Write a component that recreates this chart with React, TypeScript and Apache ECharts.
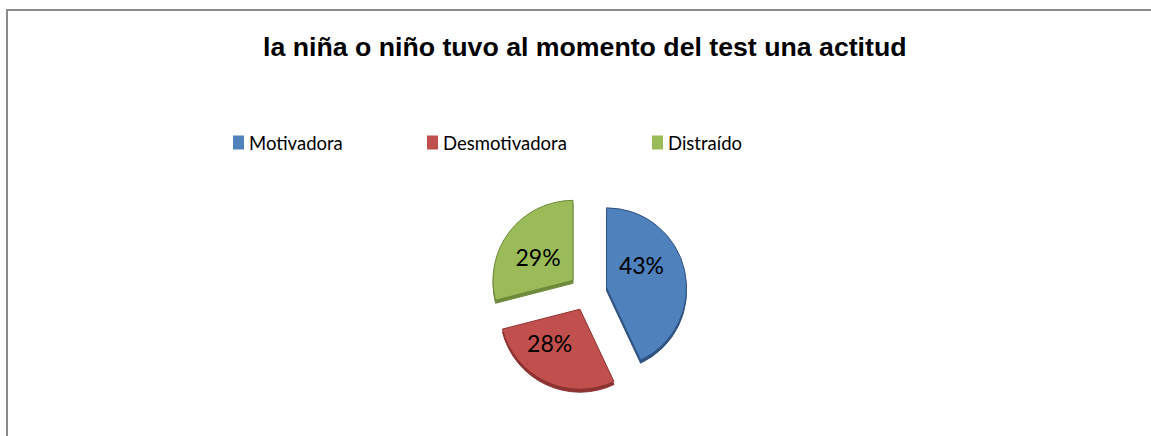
import React, { useEffect, useRef } from "react";
import * as echarts from "echarts";

const titleText = "la niña o niño tuvo al momento del test una actitud";
const categories = ["Motivadora", "Desmotivadora", "Distraído"];
const values = [43, 28, 29];
const colors = ["#4F81BD", "#C0504D", "#9BBB59"];
const darkColors = ["#2F5381", "#8C3330", "#6E8A3A"];
const legendLefts = [233, 427, 652];
const labelShift = [
  [-7, -13],
  [-12, -5],
  [-1, 3],
];

export default function App() {
  const ref = useRef<HTMLDivElement>(null);
  useEffect(() => {
    document.body.style.margin = "0";
    const chart = echarts.init(ref.current!, null, { renderer: "svg" });
    const option: any = {
      animation: false,
      backgroundColor: "#ffffff",
      title: {
        text: titleText,
        left: 263,
        top: 33,
        padding: 0,
        textStyle: {
          fontFamily: "Liberation Sans, Arial, sans-serif",
          fontWeight: "bold",
          fontSize: 26.7,
          color: "#000",
        },
      },
      legend: categories.map((c, i) => ({
        data: [c],
        left: legendLefts[i],
        top: 133,
        padding: 0,
        itemWidth: 11,
        itemHeight: 14,
        itemGap: 0,
        icon: "rect",
        itemStyle: { borderWidth: 0 },
        textStyle: {
          fontFamily: "Lato, Carlito, Calibri, sans-serif",
          fontSize: 18.5,
          color: "#000",
        },
        selectedMode: false,
      })),
      graphic: [
        {
          type: "polyline",
          shape: { points: [[7, 436], [7, 10], [1151, 10]] },
          style: { stroke: "#8a8a8a", lineWidth: 2, fill: null },
          silent: true,
        },
      ],
      series: [
        {
          type: "pie",
          center: [588, 292],
          radius: [0, 80],
          startAngle: 90,
          clockwise: true,
          selectedMode: "multiple",
          selectedOffset: 19,
          avoidLabelOverlap: false,
          label: {
            show: true,
            position: "inside",
            formatter: (p: any) => Math.round(p.percent) + "%",
            fontFamily: "Lato, Carlito, Calibri, sans-serif",
            fontSize: 23,
            color: "#000",
          },
          labelLayout: (p: any) => ({
            dx: labelShift[p.dataIndex][0],
            dy: labelShift[p.dataIndex][1],
          }),
          labelLine: { show: false },
          emphasis: { disabled: true },
          data: categories.map((c, i) => ({
            name: c,
            value: values[i],
            selected: true,
            itemStyle: {
              color: colors[i],
              borderColor: darkColors[i],
              borderWidth: 1,
              shadowColor: darkColors[i],
              shadowBlur: 0,
              shadowOffsetY: 3,
            },
          })),
        },
      ],
      color: colors,
    };
    chart.setOption(option);
    return () => chart.dispose();
  }, []);
  return (
    <div
      ref={ref}
      style={{ position: "absolute", left: 0, top: 0, width: 1151, height: 436 }}
    />
  );
}
